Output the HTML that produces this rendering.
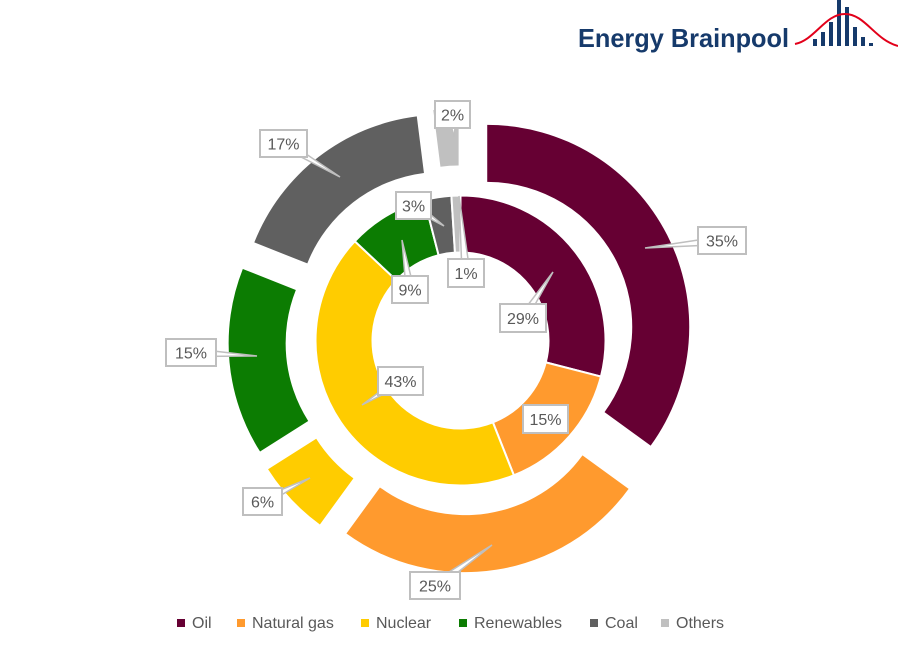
<!DOCTYPE html>
<html><head><meta charset="utf-8"><style>
html,body{margin:0;padding:0;background:#fff;}
svg{display:block;font-family:"Liberation Sans",sans-serif;}
</style></head><body>
<svg id="s" width="898" height="656" viewBox="0 0 898 656" xmlns="http://www.w3.org/2000/svg">
<g id="logo">
<text x="578" y="47" font-size="26" font-weight="bold" fill="#163a6b" textLength="211" lengthAdjust="spacingAndGlyphs">Energy Brainpool</text>
<rect x="813" y="39" width="4" height="7" fill="#163a6b"/>
<rect x="821" y="32" width="4" height="14" fill="#163a6b"/>
<rect x="829" y="22" width="4" height="24" fill="#163a6b"/>
<rect x="837" y="0" width="4" height="46" fill="#163a6b"/>
<rect x="845" y="7" width="4" height="39" fill="#163a6b"/>
<rect x="853" y="27" width="4" height="19" fill="#163a6b"/>
<rect x="861" y="37" width="4" height="9" fill="#163a6b"/>
<rect x="869" y="43" width="4" height="3" fill="#163a6b"/>
<path d="M795 44 C815 40 825 14 845 14 C865 14 875 40 898 46" fill="none" stroke="#e2001a" stroke-width="2"/>
</g>
<g id="chart"></g>
<g id="labels"></g>
<g font-size="16" fill="#595959">
<rect x="177" y="619" width="8" height="8" fill="#660033"/><text x="192" y="628">Oil</text>
<rect x="237" y="619" width="8" height="8" fill="#ff9a2e"/><text x="252" y="628">Natural gas</text>
<rect x="361" y="619" width="8" height="8" fill="#ffcc00"/><text x="376" y="628">Nuclear</text>
<rect x="459" y="619" width="8" height="8" fill="#0c7c02"/><text x="474" y="628">Renewables</text>
<rect x="590" y="619" width="8" height="8" fill="#606060"/><text x="605" y="628">Coal</text>
<rect x="661" y="619" width="8" height="8" fill="#c0c0c0"/><text x="676" y="628">Others</text>
</g>
</svg>
<script>
var NS="http://www.w3.org/2000/svg";
var cx=460.5,cy=340.5;
var cols=["#660033","#ff9a2e","#ffcc00","#0c7c02","#606060","#c0c0c0"];
var inner=[29,15,43,9,3,1],outer=[35,25,6,15,17,2];
function pt(x,y,r,a){var t=a*Math.PI/180;return [x+r*Math.sin(t),y-r*Math.cos(t)];}
function arc(x,y,r0,r1,a0,a1){
 var p1=pt(x,y,r1,a0),p2=pt(x,y,r1,a1),p3=pt(x,y,r0,a1),p4=pt(x,y,r0,a0);
 var l=(a1-a0)>180?1:0;
 return "M"+p1+" A"+r1+" "+r1+" 0 "+l+" 1 "+p2+" L"+p3+" A"+r0+" "+r0+" 0 "+l+" 0 "+p4+"Z";
}
var g=document.getElementById("chart");
function add(d,f,st){var p=document.createElementNS(NS,"path");p.setAttribute("d",d);p.setAttribute("fill",f);if(st){p.setAttribute("stroke","#fff");p.setAttribute("stroke-width","2");}g.appendChild(p);}
var a=0;
inner.forEach(function(v,i){var b=a+v*3.6;add(arc(cx,cy,88,145,a,b),cols[i],true);a=b;});
a=0;
outer.forEach(function(v,i){var b=a+v*3.6,m=(a+b)/2,c=pt(cx,cy,30,m);add(arc(c[0],c[1],145,202,a,b),cols[i],false);a=b;});
var L=document.getElementById("labels");
var labs=[
["35%",698,227,48,27,645,248],["25%",410,572,50,27,492,545],["6%",243,488,39,27,310,478],
["15%",166,339,50,27,257,356],["17%",260,130,47,27,340,177],["2%",435,101,35,27,454,137],
["3%",396,192,35,27,444,226],["9%",392,276,36,27,402,240],["1%",448,259,36,28,459,196],
["29%",500,304,46,28,553,272],["15%",523,405,45,28,0,0],["43%",378,367,45,28,362,405]];
labs.forEach(function(l){
 var x=l[1],y=l[2],w=l[3],h=l[4],px=l[5],py=l[6];
 if(px){var bx=x+w/2,by=y+h/2;
  var dx=px-bx,dy=py-by,len=Math.hypot(dx,dy),nx=-dy/len*4,ny=dx/len*4;
  var t=document.createElementNS(NS,"polygon");
  t.setAttribute("points",(bx+nx)+","+(by+ny)+" "+(bx-nx)+","+(by-ny)+" "+px+","+py);
  t.setAttribute("fill","#fff");t.setAttribute("stroke","#bfbfbf");t.setAttribute("stroke-width","1.5");L.appendChild(t);}
 var r=document.createElementNS(NS,"rect");
 r.setAttribute("x",x);r.setAttribute("y",y);r.setAttribute("width",w);r.setAttribute("height",h);
 r.setAttribute("fill","#fff");r.setAttribute("stroke","#bfbfbf");r.setAttribute("stroke-width","2");L.appendChild(r);
 var tx=document.createElementNS(NS,"text");tx.setAttribute("x",x+w/2);tx.setAttribute("y",y+h/2+6);
 tx.setAttribute("text-anchor","middle");tx.setAttribute("font-size","16");tx.setAttribute("fill","#595959");
 tx.textContent=l[0];L.appendChild(tx);
});
</script>
</body></html>
